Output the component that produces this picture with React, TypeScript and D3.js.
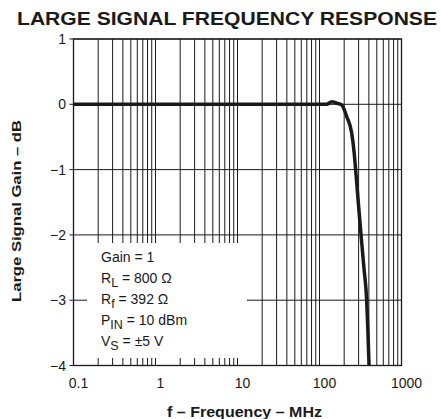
import React, { useEffect, useRef } from "react";
import * as d3 from "d3";

// Frequency in MHz vs large signal gain in dB
const freqMHz = [0.1, 1, 10, 50, 100, 122, 141, 159, 187, 215, 247, 265, 276, 297, 321, 348, 376, 390, 402];
const gainDb = [0, 0, 0, 0, 0, 0, 0.04, 0.02, -0.01, -0.19, -0.44, -0.75, -1, -1.5, -2, -2.5, -3, -3.5, -4];

const xTickValues = [0.1, 1, 10, 100, 1000];
const xTickLabels = ["0.1", "1", "10", "100", "1000"];
const yTickValues = [1, 0, -1, -2, -3, -4];
const yTickLabels = ["1", "0", "\u22121", "\u22122", "\u22123", "\u22124"];

const legendLines: [string, string, string][] = [
  ["Gain = 1", "", ""],
  ["R", "L", " = 800 \u03A9"],
  ["R", "f", " = 392 \u03A9"],
  ["P", "IN", " = 10 dBm"],
  ["V", "S", " = \u00B15 V"],
];

const W = 441;
const H = 419;
const FONT = "'Liberation Sans', Arial, Helvetica, sans-serif";
const INK = "#1a1a1a";

const App: React.FC = () => {
  const ref = useRef<SVGSVGElement>(null);

  useEffect(() => {
    const svg = d3.select(ref.current);
    svg.selectAll("*").remove();

    const left = 73.5;
    const right = 401.5;
    const top = 39;
    const bottom = 365.5;

    const x = d3.scaleLog().domain([0.1, 1000]).range([left, right]);
    const y = d3.scaleLinear().domain([-4, 1]).range([bottom, top]);

    // vertical grid at every minor decade step
    const gridX: number[] = [];
    [0.1, 1, 10, 100].forEach((dec) => {
      for (let k = 2; k <= 9; k++) gridX.push(dec * k);
      if (dec > 0.1) gridX.push(dec);
    });

    const g = svg.append("g");

    g.selectAll("line.vgrid")
      .data(gridX)
      .enter()
      .append("line")
      .attr("x1", (d) => x(d))
      .attr("x2", (d) => x(d))
      .attr("y1", top)
      .attr("y2", bottom)
      .attr("stroke", INK)
      .attr("stroke-width", 1);

    g.selectAll("line.hgrid")
      .data(yTickValues)
      .enter()
      .append("line")
      .attr("x1", left - 4)
      .attr("x2", right)
      .attr("y1", (d) => y(d))
      .attr("y2", (d) => y(d))
      .attr("stroke", INK)
      .attr("stroke-width", 1);

    // legend box blanks the grid behind the text
    g.append("rect")
      .attr("x", 87)
      .attr("y", 243)
      .attr("width", 160)
      .attr("height", 115)
      .attr("fill", "#fff");

    // frame
    g.append("rect")
      .attr("x", left)
      .attr("y", top)
      .attr("width", right - left)
      .attr("height", bottom - top)
      .attr("fill", "none")
      .attr("stroke", INK)
      .attr("stroke-width", 1.3);

    // curve
    const line = d3
      .line<number>()
      .x((d, i) => x(freqMHz[i]))
      .y((d) => y(d))
      .curve(d3.curveMonotoneX);

    g.append("path")
      .attr("d", line(gainDb) || "")
      .attr("fill", "none")
      .attr("stroke", INK)
      .attr("stroke-width", 3.5)
      .attr("stroke-linejoin", "round");

    // tick labels
    g.selectAll("text.xt")
      .data(xTickValues)
      .enter()
      .append("text")
      .attr("x", (d) => x(d) + 5)
      .attr("y", 388)
      .attr("text-anchor", "middle")
      .attr("font-family", FONT)
      .attr("font-size", 14)
      .attr("fill", INK)
      .text((d, i) => xTickLabels[i]);

    g.selectAll("text.yt")
      .data(yTickValues)
      .enter()
      .append("text")
      .attr("x", 66)
      .attr("y", (d) => y(d) + 5)
      .attr("text-anchor", "end")
      .attr("font-family", FONT)
      .attr("font-size", 14)
      .attr("fill", INK)
      .text((d, i) => yTickLabels[i]);

    // legend text
    const lg = g.append("g").attr("font-family", FONT).attr("font-size", 14).attr("fill", INK);
    legendLines.forEach(([a, sub, b], i) => {
      const t = lg.append("text").attr("x", 101).attr("y", 262 + i * 21);
      t.append("tspan").text(a);
      if (sub) {
        t.append("tspan").attr("font-size", 12.5).attr("dy", 4).text(sub);
        t.append("tspan").attr("dy", -4).text(b);
      }
    });

    // titles
    svg
      .append("text")
      .attr("x", 227)
      .attr("y", 25)
      .attr("text-anchor", "middle")
      .attr("font-family", FONT)
      .attr("font-weight", "bold")
      .attr("font-size", 17.5)
      .attr("textLength", 420)
      .attr("lengthAdjust", "spacingAndGlyphs")
      .attr("fill", INK)
      .text("LARGE SIGNAL FREQUENCY RESPONSE");

    svg
      .append("text")
      .attr("x", 244.5)
      .attr("y", 416.5)
      .attr("text-anchor", "middle")
      .attr("font-family", FONT)
      .attr("font-weight", "bold")
      .attr("font-size", 14)
      .attr("textLength", 155)
      .attr("lengthAdjust", "spacingAndGlyphs")
      .attr("fill", INK)
      .text("f \u2013 Frequency \u2013 MHz");

    svg
      .append("text")
      .attr("transform", `translate(20.5, 211) rotate(-90)`)
      .attr("text-anchor", "middle")
      .attr("font-family", FONT)
      .attr("font-weight", "bold")
      .attr("font-size", 13)
      .attr("textLength", 182)
      .attr("lengthAdjust", "spacingAndGlyphs")
      .attr("fill", INK)
      .text("Large Signal Gain \u2013 dB");
  }, []);

  return (
    <svg
      ref={ref}
      width={W}
      height={H}
      style={{ position: "absolute", left: 0, top: 0, background: "#fff" }}
    />
  );
};

export default App;
